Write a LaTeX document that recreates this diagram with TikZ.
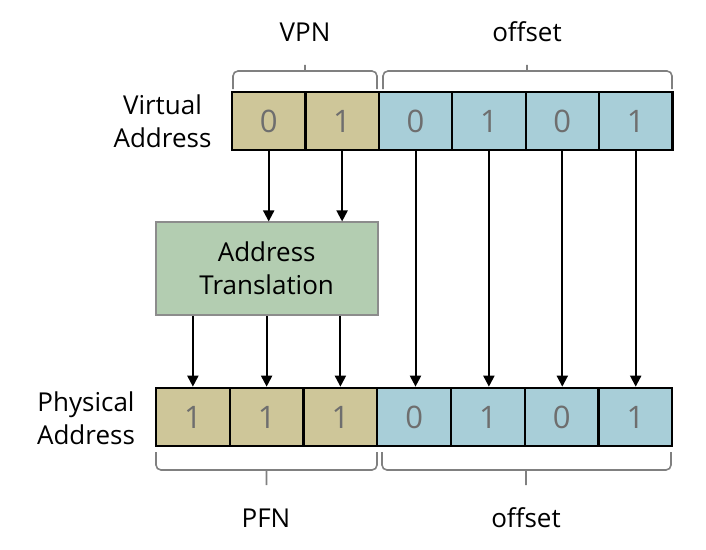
\documentclass[tikz,border=0pt]{standalone}
\usepackage{fontspec}
\setmainfont{Open Sans}
\usetikzlibrary{arrows.meta}
\definecolor{tanc}{RGB}{206,198,153}
\definecolor{bluec}{RGB}{168,206,216}
\definecolor{greenc}{RGB}{179,205,177}
\definecolor{digitc}{RGB}{110,110,110}
\definecolor{bracec}{RGB}{128,128,128}
\tikzset{
  cell/.style={draw=black, line width=2.2pt, minimum height=58.5pt, inner sep=0pt, text=digitc, font=\fontsize{31}{31}\selectfont},
  vcell/.style={cell, minimum width=73.4pt},
  pcell/.style={cell, minimum width=73.76pt},
  tanbox/.style={fill=tanc},
  bluebox/.style={fill=bluec},
  lbl/.style={font=\fontsize{26}{33}\selectfont, align=center, inner sep=0pt},
  arr/.style={line width=2pt, -{Triangle[length=11pt,width=11pt]}},
  brc/.style={draw=bracec, line width=1.6pt, rounded corners=5pt},
  atbox/.style={draw=gray!90, line width=1.6pt, fill=greenc, minimum width=222pt, minimum height=92.7pt, inner sep=0pt, font=\fontsize{26}{33}\selectfont, align=center}
}
\begin{document}
\begin{tikzpicture}[x=1pt,y=-1pt]
\useasboundingbox (0,0) rectangle (706,549);
% virtual address cells
\foreach \i/\d/\s in {1/0/tanbox,2/1/tanbox,3/0/bluebox,4/1/bluebox,5/0/bluebox,6/1/bluebox}{
  \node[vcell,\s] (v\i) at ({232+73.4*(\i-0.5)},121) {\d};
}
% physical address cells
\foreach \i/\d/\s in {1/1/tanbox,2/1/tanbox,3/1/tanbox,4/0/bluebox,5/1/bluebox,6/0/bluebox,7/1/bluebox}{
  \node[pcell,\s] (p\i) at ({156+73.76*(\i-0.5)},417) {\d};
}
% address translation box
\node[atbox] (at) at (266.7,268.6) {Address\\Translation};
% labels
\node[lbl] (va) at (162.5,121.5) {Virtual\\Address};
\node[lbl] (pa) at (86,418.5) {Physical\\Address};
\node[lbl] (vpn) at (305,32) {VPN};
\node[lbl] (voff) at (527,32) {offset};
\node[lbl] (pfn) at (266,518) {PFN};
\node[lbl] (poff) at (526,518) {offset};
% arrows
\draw[arr] (v1.south) -- (v1.south |- at.north);
\draw[arr] (v2.south) -- (v2.south |- at.north);
\draw[arr] (p1.north |- at.south) -- (p1.north);
\draw[arr] (p2.north |- at.south) -- (p2.north);
\draw[arr] (p3.north |- at.south) -- (p3.north);
\draw[arr] (v3.south) -- (v3.south |- p4.north);
\draw[arr] (v4.south) -- (v4.south |- p5.north);
\draw[arr] (v5.south) -- (v5.south |- p6.north);
\draw[arr] (v6.south) -- (v6.south |- p7.north);
% braces top
\draw[brc] (233,89) -- (233,71) -- (300,71) .. controls (305,71) .. (305,62) .. controls (305,71) .. (310,71) -- (377,71) -- (377,89);
\draw[brc] (383,89) -- (383,71) -- (522,71) .. controls (527,71) .. (527,62) .. controls (527,71) .. (532,71) -- (672,71) -- (672,89);
% braces bottom
\draw[brc] (156,452) -- (156,470) -- (261.5,470) .. controls (266.5,470) .. (266.5,488) .. controls (266.5,470) .. (271.5,470) -- (377,470) -- (377,452);
\draw[brc] (382,452) -- (382,470) -- (521,470) .. controls (526,470) .. (526,488) .. controls (526,470) .. (531,470) -- (671,470) -- (671,452);
\end{tikzpicture}
\end{document}
